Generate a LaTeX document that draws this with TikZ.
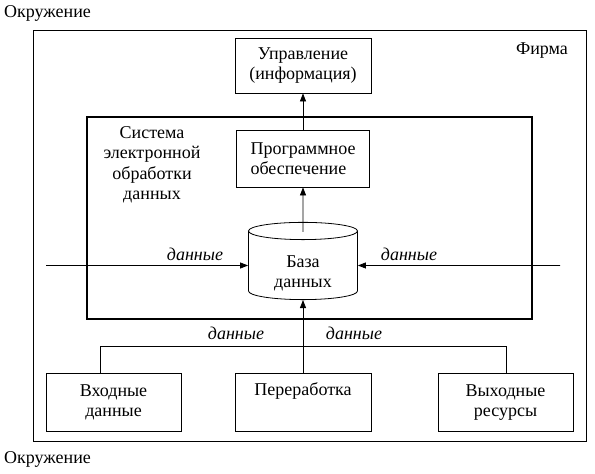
\documentclass[tikz,border=0pt]{standalone}
\usepackage{fontspec}
\setmainfont{Liberation Serif}
\usetikzlibrary{positioning}
\usetikzlibrary{calc}
\usetikzlibrary{arrows.meta}
\usetikzlibrary{shapes.geometric}

\begin{document}
\begin{tikzpicture}[x=1pt, y=-1pt,
    every node/.style={font=\fontsize{18}{20.5}\selectfont, inner sep=0pt},
    unit/.style={draw, line width=0.8pt, minimum width=136pt, minimum height=58pt, align=center},
    flow/.style={line width=0.8pt, -{Triangle[length=8pt, width=6pt]}},
    datalabel/.style={font=\fontsize{18}{20}\selectfont\itshape}]
\useasboundingbox (0,0) rectangle (595,474);

% Firm boundary and the data processing frame
\node[draw, line width=0.8pt, minimum width=553pt, minimum height=411pt] (firm) at (309.5,235.5) {};
\node[draw, line width=1.6pt, minimum width=445pt, minimum height=202pt] (edp) at (309.5,218) {};

% Labels of the areas
\node[anchor=west] (envtop) at (4,13) {Окружение};
\node[anchor=west] (envbot) at (4,459) {Окружение};
\node (firmlabel) at (542,51) {Фирма};
\node[align=center] (edplabel) at (152,165) {Система\\электронной\\обработки\\данных};

% Blocks
\node[unit, minimum height=55pt] (mgmt) at (303,65.5) {Управление\\(информация)};
\node[unit, minimum width=133pt, minimum height=57pt, align=left] (prog) at (303,158.5) {Программное\\обеспечение};
\node[cylinder, shape border rotate=90, draw, line width=0.8pt, aspect=0.3,
      minimum width=109pt, minimum height=77pt, align=center] (db) at (303,265.5) {\rule{0pt}{27pt}База\\данных};
\node[unit, minimum width=135pt] (inp) at (113.5,402.5) {Входные\\данные};
\node[unit] (proc) at (303,402.5) {Переработка\\\strut};
\node[unit, minimum width=135pt] (out) at (505.5,402.5) {Выходные\\ресурсы};

% Data flows
\coordinate (inL) at (46,265.5);
\coordinate (inR) at (560,265.5);
\coordinate (busL) at (100,346);
\coordinate (busR) at (506,346);
\draw[flow] (prog.north) -- (mgmt.south);
\draw[flow] ($(db.north)+(0,10)$) -- (prog.south);
\draw[flow] (inL) -- (db.west);
\draw[flow] (inR) -- (db.east);
\draw[flow] (proc.north) -- (db.south);
\draw[line width=0.8pt] (busL |- inp.north) -- (busL) -- (busR) -- (busR |- out.north);

\node[datalabel] (dleft) at (195,254) {данные};
\node[datalabel] (dright) at (409,254) {данные};
\node[datalabel] (dbotl) at (236,333) {данные};
\node[datalabel] (dbotr) at (354,333) {данные};
\end{tikzpicture}
\end{document}
